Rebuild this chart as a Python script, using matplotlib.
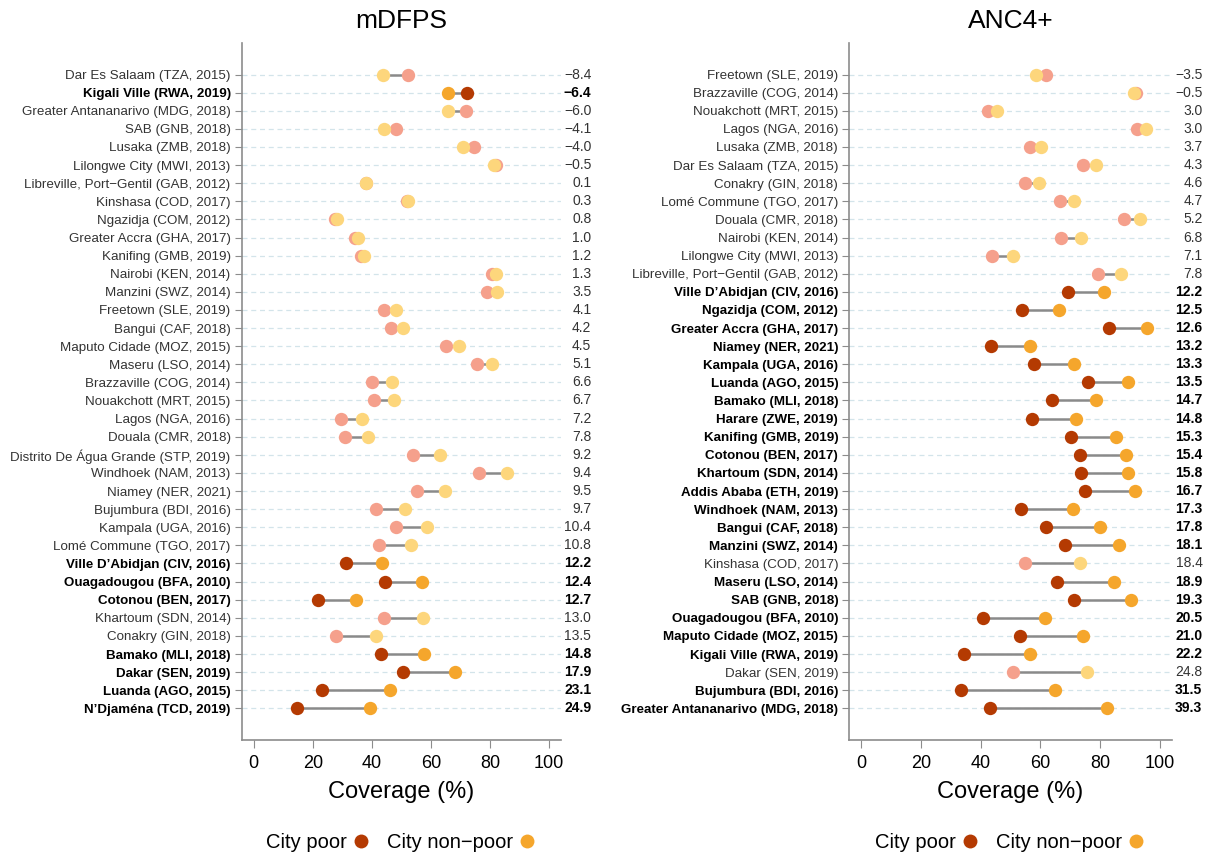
import matplotlib.pyplot as plt

plt.rcParams['font.family'] = ['Liberation Sans', 'DejaVu Sans']

POOR_DARK = "#B43A02"
NONPOOR_DARK = "#F5A62C"
POOR_LIGHT = "#F5A08C"
NONPOOR_LIGHT = "#FDD67C"
GRID_COLOR = "#D3E4EA"
AXIS_COLOR = "#8C8C8C"

# mDFPS panel (top to bottom)
labels_m = [
    "Dar Es Salaam (TZA, 2015)", "Kigali Ville (RWA, 2019)", "Greater Antananarivo (MDG, 2018)",
    "SAB (GNB, 2018)", "Lusaka (ZMB, 2018)", "Lilongwe City (MWI, 2013)",
    "Libreville, Port\u2212Gentil (GAB, 2012)", "Kinshasa (COD, 2017)", "Ngazidja (COM, 2012)",
    "Greater Accra (GHA, 2017)", "Kanifing (GMB, 2019)", "Nairobi (KEN, 2014)",
    "Manzini (SWZ, 2014)", "Freetown (SLE, 2019)", "Bangui (CAF, 2018)",
    "Maputo Cidade (MOZ, 2015)", "Maseru (LSO, 2014)", "Brazzaville (COG, 2014)",
    "Nouakchott (MRT, 2015)", "Lagos (NGA, 2016)", "Douala (CMR, 2018)",
    "Distrito De Água Grande (STP, 2019)", "Windhoek (NAM, 2013)", "Niamey (NER, 2021)",
    "Bujumbura (BDI, 2016)", "Kampala (UGA, 2016)", "Lomé Commune (TGO, 2017)",
    "Ville D\u2019Abidjan (CIV, 2016)", "Ouagadougou (BFA, 2010)", "Cotonou (BEN, 2017)",
    "Khartoum (SDN, 2014)", "Conakry (GIN, 2018)", "Bamako (MLI, 2018)",
    "Dakar (SEN, 2019)", "Luanda (AGO, 2015)", "N\u2019Djaména (TCD, 2019)",
]
poor_m = [52.3, 72.3, 71.8, 48.1, 74.7, 82.0, 37.9, 51.8, 27.4, 34.4, 36.3, 80.7,
          79.0, 44.1, 46.4, 65.0, 75.5, 40.2, 40.9, 29.5, 31.0, 53.9, 76.4, 55.3,
          41.5, 48.3, 42.4, 31.1, 44.6, 21.8, 44.2, 27.9, 43.0, 50.4, 23.0, 14.6]
nonpoor_m = [43.9, 65.9, 65.8, 44.0, 70.7, 81.5, 38.0, 52.1, 28.2, 35.4, 37.5, 82.0,
             82.5, 48.2, 50.6, 69.5, 80.6, 46.8, 47.6, 36.7, 38.8, 63.1, 85.8, 64.8,
             51.2, 58.7, 53.2, 43.3, 57.0, 34.5, 57.2, 41.4, 57.8, 68.3, 46.1, 39.5]
diff_m = [-8.4, -6.4, -6.0, -4.1, -4.0, -0.5, 0.1, 0.3, 0.8, 1.0, 1.2, 1.3,
          3.5, 4.1, 4.2, 4.5, 5.1, 6.6, 6.7, 7.2, 7.8, 9.2, 9.4, 9.5,
          9.7, 10.4, 10.8, 12.2, 12.4, 12.7, 13.0, 13.5, 14.8, 17.9, 23.1, 24.9]
sig_m = [0, 1, 0, 0, 0, 0, 0, 0, 0, 0, 0, 0,
         0, 0, 0, 0, 0, 0, 0, 0, 0, 0, 0, 0,
         0, 0, 0, 1, 1, 1, 0, 0, 1, 1, 1, 1]

# ANC4+ panel (top to bottom)
labels_a = [
    "Freetown (SLE, 2019)", "Brazzaville (COG, 2014)", "Nouakchott (MRT, 2015)",
    "Lagos (NGA, 2016)", "Lusaka (ZMB, 2018)", "Dar Es Salaam (TZA, 2015)",
    "Conakry (GIN, 2018)", "Lomé Commune (TGO, 2017)", "Douala (CMR, 2018)",
    "Nairobi (KEN, 2014)", "Lilongwe City (MWI, 2013)", "Libreville, Port\u2212Gentil (GAB, 2012)",
    "Ville D\u2019Abidjan (CIV, 2016)", "Ngazidja (COM, 2012)", "Greater Accra (GHA, 2017)",
    "Niamey (NER, 2021)", "Kampala (UGA, 2016)", "Luanda (AGO, 2015)",
    "Bamako (MLI, 2018)", "Harare (ZWE, 2019)", "Kanifing (GMB, 2019)",
    "Cotonou (BEN, 2017)", "Khartoum (SDN, 2014)", "Addis Ababa (ETH, 2019)",
    "Windhoek (NAM, 2013)", "Bangui (CAF, 2018)", "Manzini (SWZ, 2014)",
    "Kinshasa (COD, 2017)", "Maseru (LSO, 2014)", "SAB (GNB, 2018)",
    "Ouagadougou (BFA, 2010)", "Maputo Cidade (MOZ, 2015)", "Kigali Ville (RWA, 2019)",
    "Dakar (SEN, 2019)", "Bujumbura (BDI, 2016)", "Greater Antananarivo (MDG, 2018)",
]
poor_a = [62.0, 92.0, 42.4, 92.3, 56.5, 74.2, 54.8, 66.5, 88.0, 66.8, 43.8, 79.2,
          69.2, 53.8, 83.1, 43.3, 57.9, 75.8, 63.9, 57.1, 70.1, 73.4, 73.5, 74.9,
          53.5, 62.0, 68.2, 54.9, 65.7, 71.2, 40.9, 53.2, 34.3, 50.9, 33.3, 43.1]
nonpoor_a = [58.5, 91.5, 45.4, 95.3, 60.2, 78.5, 59.4, 71.2, 93.2, 73.6, 50.9, 87.0,
             81.4, 66.3, 95.7, 56.5, 71.2, 89.3, 78.6, 71.9, 85.4, 88.8, 89.3, 91.6,
             70.8, 79.8, 86.3, 73.3, 84.6, 90.5, 61.4, 74.2, 56.5, 75.7, 64.8, 82.4]
diff_a = [-3.5, -0.5, 3.0, 3.0, 3.7, 4.3, 4.6, 4.7, 5.2, 6.8, 7.1, 7.8,
          12.2, 12.5, 12.6, 13.2, 13.3, 13.5, 14.7, 14.8, 15.3, 15.4, 15.8, 16.7,
          17.3, 17.8, 18.1, 18.4, 18.9, 19.3, 20.5, 21.0, 22.2, 24.8, 31.5, 39.3]
sig_a = [0, 0, 0, 0, 0, 0, 0, 0, 0, 0, 0, 0,
         1, 1, 1, 1, 1, 1, 1, 1, 1, 1, 1, 1,
         1, 1, 1, 0, 1, 1, 1, 1, 1, 0, 1, 1]


def draw_panel(fig, rect, title, labels, poor, nonpoor, diff, sig):
    ax = fig.add_axes(rect)
    n = len(labels)
    ys = [n - 1 - i for i in range(n)]

    for y in ys:
        ax.axhline(y, color=GRID_COLOR, linestyle=(0, (4, 3)), linewidth=0.9, zorder=0)

    for i, y in enumerate(ys):
        c_poor = POOR_DARK if sig[i] else POOR_LIGHT
        c_non = NONPOOR_DARK if sig[i] else NONPOOR_LIGHT
        ax.plot([poor[i], nonpoor[i]], [y, y], color="#8A8A8A", linewidth=1.8, zorder=1)
        ax.plot(poor[i], y, "o", color=c_poor, markersize=9.6, markeredgewidth=0, zorder=2)
        ax.plot(nonpoor[i], y, "o", color=c_non, markersize=9.6, markeredgewidth=0, zorder=3)
        txt = f"{diff[i]:.1f}".replace("-", "\u2212")
        ax.text(1.095, y, txt, transform=ax.get_yaxis_transform(), ha="right", va="center",
                fontsize=10, fontweight="bold" if sig[i] else "normal",
                color="black" if sig[i] else "#333333")

    ax.set_yticks(ys)
    ax.set_yticklabels(labels, fontsize=9.6)
    for lab, s in zip(ax.get_yticklabels(), sig):
        if s:
            lab.set_fontweight("bold")
            lab.set_color("black")
        else:
            lab.set_color("#333333")

    ax.set_xlim(-4, 104)
    ax.set_ylim(-1.75, n - 1 + 1.75)
    ax.set_xticks([0, 20, 40, 60, 80, 100])
    ax.tick_params(axis="x", labelsize=13, length=6, color=AXIS_COLOR, pad=5)
    ax.tick_params(axis="y", length=5, color=AXIS_COLOR, pad=3)
    ax.set_xlabel("Coverage (%)", fontsize=17, labelpad=6)
    ax.set_title(title, fontsize=19, pad=11)

    for side in ["top", "right"]:
        ax.spines[side].set_visible(False)
    for side in ["left", "bottom"]:
        ax.spines[side].set_color(AXIS_COLOR)
        ax.spines[side].set_linewidth(1.2)

    h1, = ax.plot([], [], "o", color=POOR_DARK, markersize=10, markeredgewidth=0)
    h2, = ax.plot([], [], "o", color=NONPOOR_DARK, markersize=10, markeredgewidth=0)
    cx = rect[0] + rect[2] / 2
    ax.legend([h1, h2], ["City poor", "City non\u2212poor"], loc="center",
              bbox_to_anchor=(cx, 0.017), bbox_transform=fig.transFigure,
              ncol=2, markerfirst=False, frameon=False, fontsize=14.5,
              handletextpad=0.2, columnspacing=0.8, handlelength=1.0)
    return ax


fig = plt.figure(figsize=(12.13, 8.57), dpi=100)
draw_panel(fig, [0.1993, 0.1365, 0.2632, 0.8135], "mDFPS",
           labels_m, poor_m, nonpoor_m, diff_m, sig_m)
draw_panel(fig, [0.7002, 0.1365, 0.2658, 0.8135], "ANC4+",
           labels_a, poor_a, nonpoor_a, diff_a, sig_a)

plt.savefig("out.png", dpi=100)
